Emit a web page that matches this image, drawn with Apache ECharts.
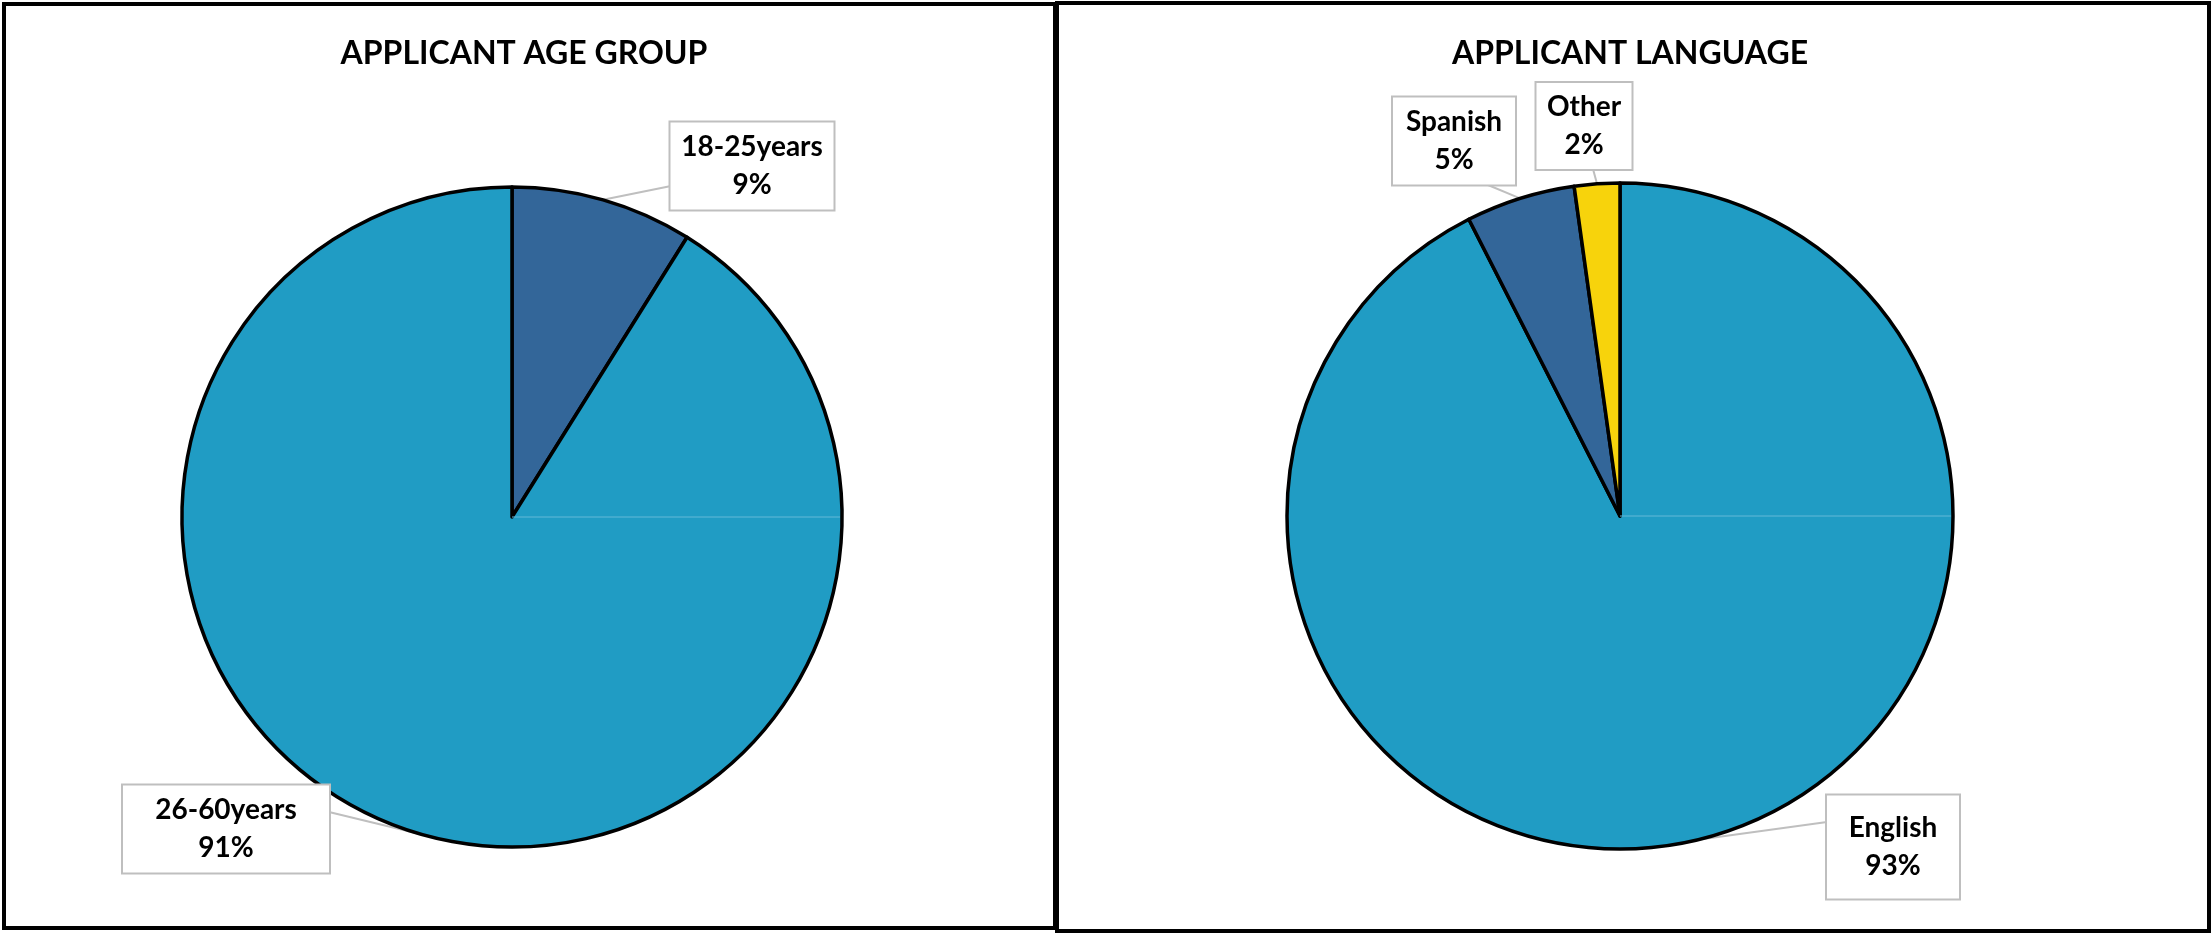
<!DOCTYPE html>
<html><head><meta charset="utf-8">
<script src="https://cdn.jsdelivr.net/npm/echarts@6/dist/echarts.min.js"></script>
<style>html,body{margin:0;padding:0;background:#fff}#c{width:2211px;height:933px}</style>
</head><body><div id="c"></div>
<script>
// ---- data ----
const titles = ['APPLICANT AGE GROUP', 'APPLICANT LANGUAGE'];
const ageCategories = ['18-25years', '26-60years'];
const ageValues = [8.9, 91.1];
const languageCategories = ['English', 'Spanish', 'Other'];
const languageValues = [92.5, 5.3, 2.2];

// ---- styles / layout ----
const LIGHT = '#209CC4', DARK = '#336699', YELLOW = '#F7D30C';
const ageColors = [DARK, LIGHT];
const languageColors = [LIGHT, DARK, YELLOW];
const FONT = 'Lato, "Open Sans", sans-serif';
const LH = 38;
// label box layout: centre, size, line attach point
const boxes = {
  '18-25years': {cx: 752, cy: 166, w: 163, h: 87, ax: 671, ay: 186},
  '26-60years': {cx: 226, cy: 829, w: 206, h: 87, ax: 329, ay: 812},
  'Spanish':    {cx: 1454, cy: 141, w: 122, h: 87, ax: 1488, ay: 185},
  'Other':      {cx: 1584, cy: 126, w: 95, h: 86, ax: 1593, ay: 169},
  'English':    {cx: 1893, cy: 847, w: 132, h: 103, ax: 1827, ay: 822}
};
const pies = [
  {center: [512, 517], r: 330, cats: ageCategories, vals: ageValues, colors: ageColors},
  {center: [1620, 516], r: 333, cats: languageCategories, vals: languageValues, colors: languageColors}
];

const chart = echarts.init(document.getElementById('c'), null, {renderer: 'canvas'});

const series = pies.map((p, si) => ({
  type: 'pie',
  center: p.center,
  radius: [0, p.r],
  startAngle: 90,
  clockwise: true,
  avoidLabelOverlap: false,
  animation: false,
  silent: true,
  itemStyle: {borderColor: '#000', borderWidth: 3.5},
  label: {
    show: true,
    position: 'outside',
    formatter: prm => prm.name + '\n' + Math.round(prm.value) + '%',
    fontFamily: FONT, fontWeight: 'bold', fontSize: 28, color: '#000',
    lineHeight: LH, align: 'center',
    backgroundColor: '#fff', borderColor: '#BFBFBF', borderWidth: 2
  },
  labelLine: {show: true, lineStyle: {color: '#BFBFBF', width: 2}},
  labelLayout: function (params) {
    const name = p.cats[params.dataIndex];
    const b = boxes[name];
    const pts = params.labelLinePoints;
    const res = {x: b.cx, y: b.cy, align: 'center', verticalAlign: 'middle'};
    if (pts) {
      res.labelLinePoints = [pts[0], pts[0], [b.ax, b.ay]];
    }
    return res;
  },
  data: p.cats.map((c, i) => {
    const b = boxes[c];
    const pv = (b.h - 2 * LH) / 2;
    return {
      name: c, value: p.vals[i],
      itemStyle: {color: p.colors[i]},
      label: {width: b.w, padding: [pv + 3, 0, pv - 3, 0]}
    };
  })
}));

const graphics = [
  {type: 'rect', shape: {x: 4, y: 4, width: 1051, height: 924}, style: {fill: 'none', stroke: '#000', lineWidth: 4}, z: 100},
  {type: 'rect', shape: {x: 1057, y: 3, width: 1152, height: 928}, style: {fill: 'none', stroke: '#000', lineWidth: 4}, z: 100}
];
pies.forEach(p => {
  graphics.push({type: 'line', shape: {x1: p.center[0], y1: p.center[1], x2: p.center[0] + p.r - 2, y2: p.center[1]},
    style: {stroke: '#62B9D8', lineWidth: 1}, z: 100});
});

chart.setOption({
  backgroundColor: '#fff',
  animation: false,
  title: [
    {text: titles[0], left: 524, top: 38, textAlign: 'center', padding: 0,
     textStyle: {fontFamily: FONT, fontWeight: 'bold', fontSize: 32, color: '#000'}},
    {text: titles[1], left: 1630, top: 38, textAlign: 'center', padding: 0,
     textStyle: {fontFamily: FONT, fontWeight: 'bold', fontSize: 32, color: '#000'}}
  ],
  graphic: graphics,
  series: series
});
</script>
</body></html>
